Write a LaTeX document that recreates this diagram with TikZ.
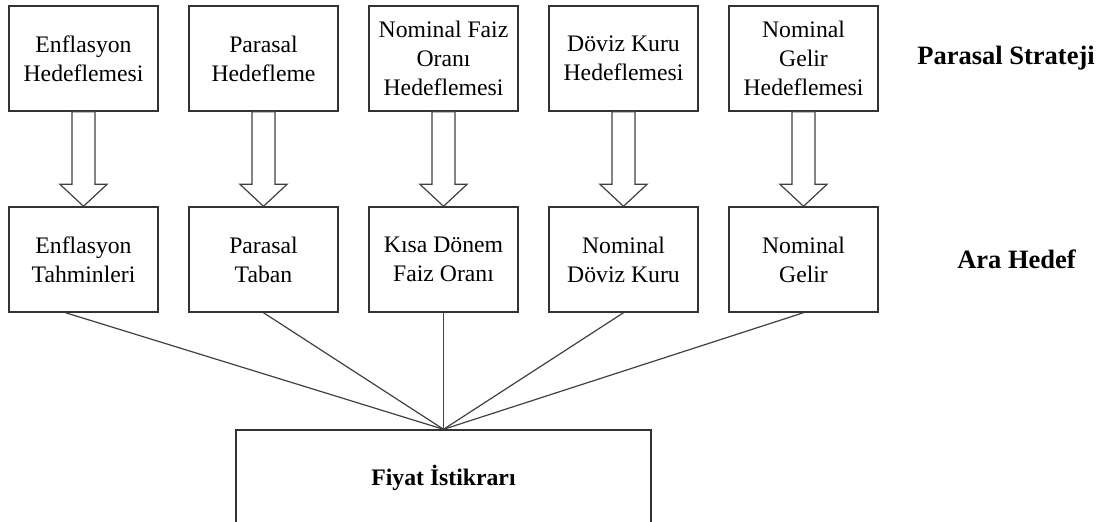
\documentclass[tikz,border=0pt]{standalone}
\usepackage{fontspec}
\setmainfont{Liberation Serif}
\usetikzlibrary{positioning}

\begin{document}
\begin{tikzpicture}[node distance=90pt,on grid,
    box/.style={draw=black!80,line width=0.7pt,minimum width=74.5pt,minimum height=52.5pt,
      align=center,inner sep=1pt,font=\fontsize{11.85}{14.5}\selectfont},
    lbl/.style={font=\fontsize{13.25}{16}\selectfont\bfseries},
    blk/.style={draw=black!75,line width=0.6pt,fill=white,
      to path={([xshift=-5.75pt]\tikztostart.south) -- ([xshift=-5.75pt,yshift=11pt]\tikztotarget.north)
        -- ++(-6pt,0) -- (\tikztotarget.north) -- ++(11.75pt,11pt) -- ++(-6pt,0)
        -- ([xshift=5.75pt]\tikztostart.south) -- cycle}},
    link/.style={draw=black!75,line width=0.6pt}]
   \useasboundingbox (0,0) rectangle (553pt,-260.5pt);
   \clip (0,0) rectangle (553pt,-260.5pt);
   % parasal stratejiler
   \node[box] (t_1) at (41.75pt,-29.25pt) {Enflasyon\\Hedeflemesi};
   \node[box] (t_2) [right=of t_1] {Parasal\\Hedefleme};
   \node[box] (t_3) [right=of t_2] {Nominal Faiz\\Oranı\\Hedeflemesi};
   \node[box] (t_4) [right=of t_3] {Döviz Kuru\\Hedeflemesi};
   \node[box] (t_5) [right=of t_4] {Nominal\\Gelir\\Hedeflemesi};
   % ara hedefler
   \node[box] (m_1) [below=100.5pt of t_1] {Enflasyon\\Tahminleri};
   \node[box] (m_2) [right=of m_1] {Parasal\\Taban};
   \node[box] (m_3) [right=of m_2] {Kısa Dönem\\Faiz Oranı};
   \node[box] (m_4) [right=of m_3] {Nominal\\Döviz Kuru};
   \node[box] (m_5) [right=of m_4] {Nominal\\Gelir};
   \node[lbl] (l_top) [right=101.25pt of t_5] {Parasal Strateji};
   \node[lbl] (l_mid) [right=106.5pt of m_5] {Ara Hedef};
   % nihai hedef
   \node[box,minimum width=207.5pt,minimum height=48pt,font=\fontsize{11.85}{14.5}\selectfont\bfseries]
     (fiyat) [below=109.25pt of m_3] {Fiyat İstikrarı};
    \path[blk]
    (t_1) edge (m_1)
    (t_2) edge (m_2)
    (t_3) edge (m_3)
    (t_4) edge (m_4)
    (t_5) edge (m_5);
    \path[link]
    ([xshift=-9pt]m_1.south) edge (fiyat.north)
    (m_2.south) edge (fiyat.north)
    (m_3.south) edge (fiyat.north)
    (m_4.south) edge (fiyat.north)
    (m_5.south) edge (fiyat.north);
\end{tikzpicture}
\end{document}
